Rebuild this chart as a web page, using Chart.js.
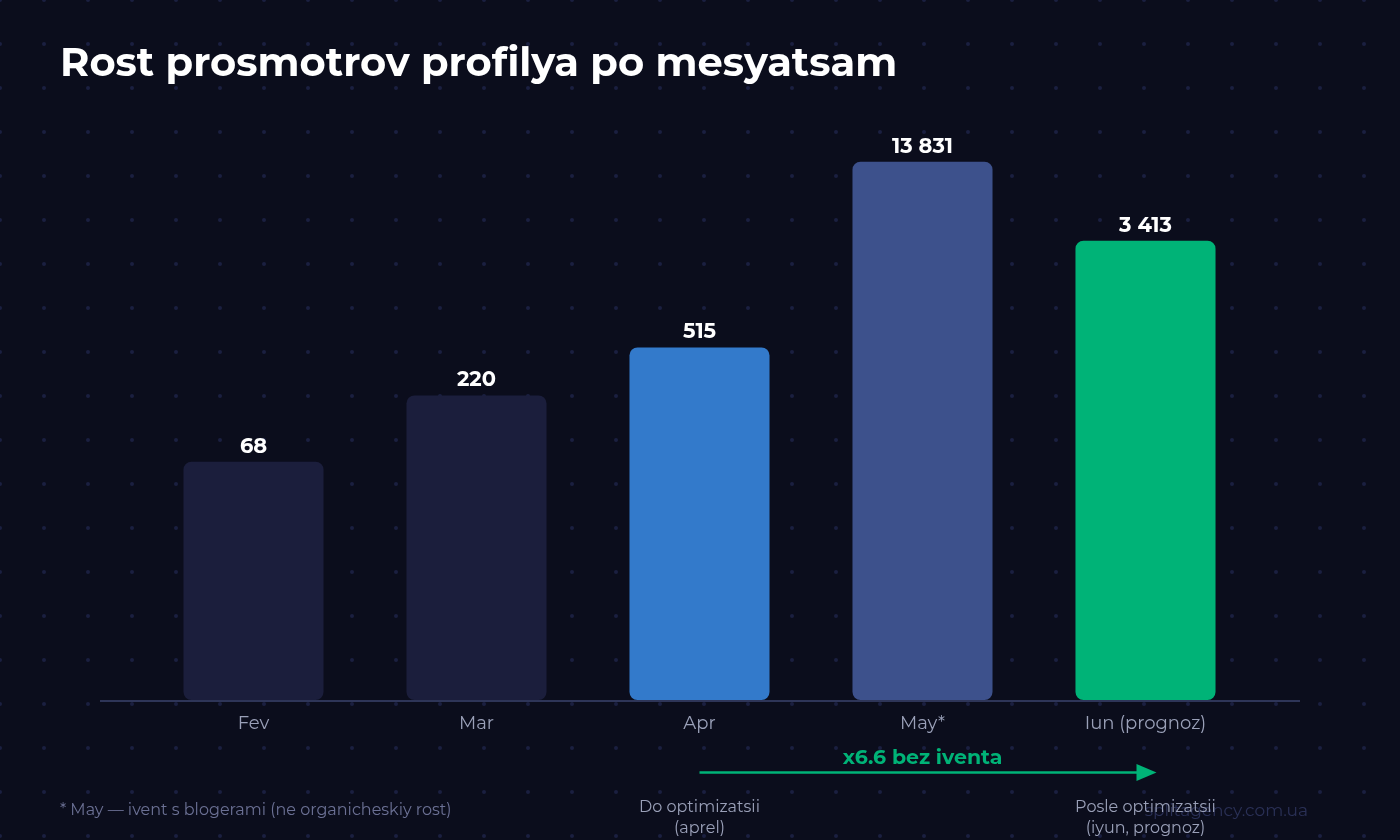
<!DOCTYPE html>
<html>
<head>
<meta charset="utf-8">
<script src="https://cdn.jsdelivr.net/npm/chart.js@4.4.1/dist/chart.umd.min.js"></script>
<style>
  html, body { margin: 0; padding: 0; background: #0b0d1c; }
  #wrap { width: 1400px; height: 840px; position: relative; }
</style>
</head>
<body>
<div id="wrap"><canvas id="views-chart" width="1400" height="840"></canvas></div>
<script>
// Chart data
const months = ['Fev', 'Mar', 'Apr', 'May*', 'Iun (prognoz)'];
const views = [68, 220, 515, 13831, 3413];
const barColors = ['#1b1e3c', '#1b1e3c', '#337acb', '#3d518c', '#00b377'];

const titleText = 'Rost prosmotrov profilya po mesyatsam';
const arrowText = 'x6.6 bez iventa';
const footnote = '* May \u2014 ivent s blogerami (ne organicheskiy rost)';
const beforeLabel = ['Do optimizatsii', '(aprel)'];
const afterLabel = ['Posle optimizatsii', '(iyun, prognoz)'];
const watermark = 'splitagency.com.ua';

const FONT = 'Montserrat, Inter, "Noto Sans", sans-serif';

function formatNum(v) {
    return String(v).replace(/\B(?=(\d{3})+(?!\d))/g, ' ');
}

// background + dot grid
const backdrop = {
    id: 'backdrop',
    beforeDraw(chart) {
        const ctx = chart.ctx;
        ctx.save();
        ctx.fillStyle = '#0b0d1c';
        ctx.fillRect(0, 0, chart.width, chart.height);
        ctx.fillStyle = '#1b1f40';
        for (let x = 0; x <= chart.width; x += 44) {
            for (let y = 0; y <= chart.height; y += 44) {
                ctx.beginPath();
                ctx.arc(x, y, 2, 0, Math.PI * 2);
                ctx.fill();
            }
        }
        // title
        ctx.fillStyle = '#ffffff';
        ctx.font = '700 40px ' + FONT;
        ctx.textBaseline = 'alphabetic';
        ctx.textAlign = 'left';
        ctx.fillText(titleText, 60, 76);

        // baseline
        const bottom = chart.chartArea.bottom;
        ctx.strokeStyle = '#2e3558';
        ctx.lineWidth = 2;
        ctx.beginPath();
        ctx.moveTo(100, bottom + 1);
        ctx.lineTo(1300, bottom + 1);
        ctx.stroke();
        ctx.restore();
    }
};

// value labels, arrow and notes
const annotations = {
    id: 'annotations',
    afterDatasetsDraw(chart) {
        const ctx = chart.ctx;
        const meta = chart.getDatasetMeta(0);
        ctx.save();
        ctx.fillStyle = '#ffffff';
        ctx.font = '700 21px ' + FONT;
        ctx.textAlign = 'center';
        ctx.textBaseline = 'alphabetic';
        meta.data.forEach((bar, i) => {
            ctx.fillText(formatNum(views[i]), bar.x, bar.y - 9);
        });

        const xApr = meta.data[2].x;
        const xMay = meta.data[3].x;
        const xJun = meta.data[4].x;

        // arrow
        ctx.strokeStyle = '#00b377';
        ctx.fillStyle = '#00b377';
        ctx.lineWidth = 2.5;
        ctx.beginPath();
        ctx.moveTo(xApr, 772.5);
        ctx.lineTo(xJun - 8, 772.5);
        ctx.stroke();
        ctx.beginPath();
        ctx.moveTo(xJun - 9, 764);
        ctx.lineTo(xJun + 11, 772.5);
        ctx.lineTo(xJun - 9, 781);
        ctx.closePath();
        ctx.fill();
        ctx.font = '700 20.5px ' + FONT;
        ctx.fillText(arrowText, xMay, 764);

        // watermark
        ctx.font = '400 17px ' + FONT;
        ctx.fillStyle = '#2a3056';
        ctx.textAlign = 'right';
        ctx.fillText(watermark, 1308, 816);

        // footnote
        ctx.textAlign = 'left';
        ctx.fillStyle = '#6b7094';
        ctx.font = '400 16px ' + FONT;
        ctx.fillText(footnote, 60, 815);

        // before / after
        ctx.textAlign = 'center';
        ctx.fillStyle = '#9aa0b8';
        ctx.font = '400 16px ' + FONT;
        beforeLabel.forEach((t, i) => ctx.fillText(t, xApr, 812 + i * 21));
        afterLabel.forEach((t, i) => ctx.fillText(t, xJun, 812 + i * 21));
        ctx.restore();
    }
};

const ctx = document.getElementById('views-chart').getContext('2d');
new Chart(ctx, {
    type: 'bar',
    data: {
        labels: months,
        datasets: [{
            data: views,
            backgroundColor: barColors,
            borderRadius: 8,
            borderSkipped: false,
            barPercentage: 0.628,
            categoryPercentage: 1
        }]
    },
    options: {
        responsive: false,
        animation: false,
        layout: {
            padding: { top: 50, bottom: 100, left: 142, right: 143 }
        },
        plugins: {
            legend: { display: false },
            tooltip: { enabled: false }
        },
        scales: {
            x: {
                grid: { display: false, drawTicks: false },
                border: { display: false },
                ticks: {
                    color: '#9aa0b8',
                    padding: 13,
                    font: { family: FONT, size: 18, weight: '400' }
                },
                afterFit: (scale) => { scale.height = 40; }
            },
            y: {
                type: 'logarithmic',
                display: false,
                min: 1,
                max: 100000
            }
        }
    },
    plugins: [backdrop, annotations]
});
</script>
</body>
</html>
